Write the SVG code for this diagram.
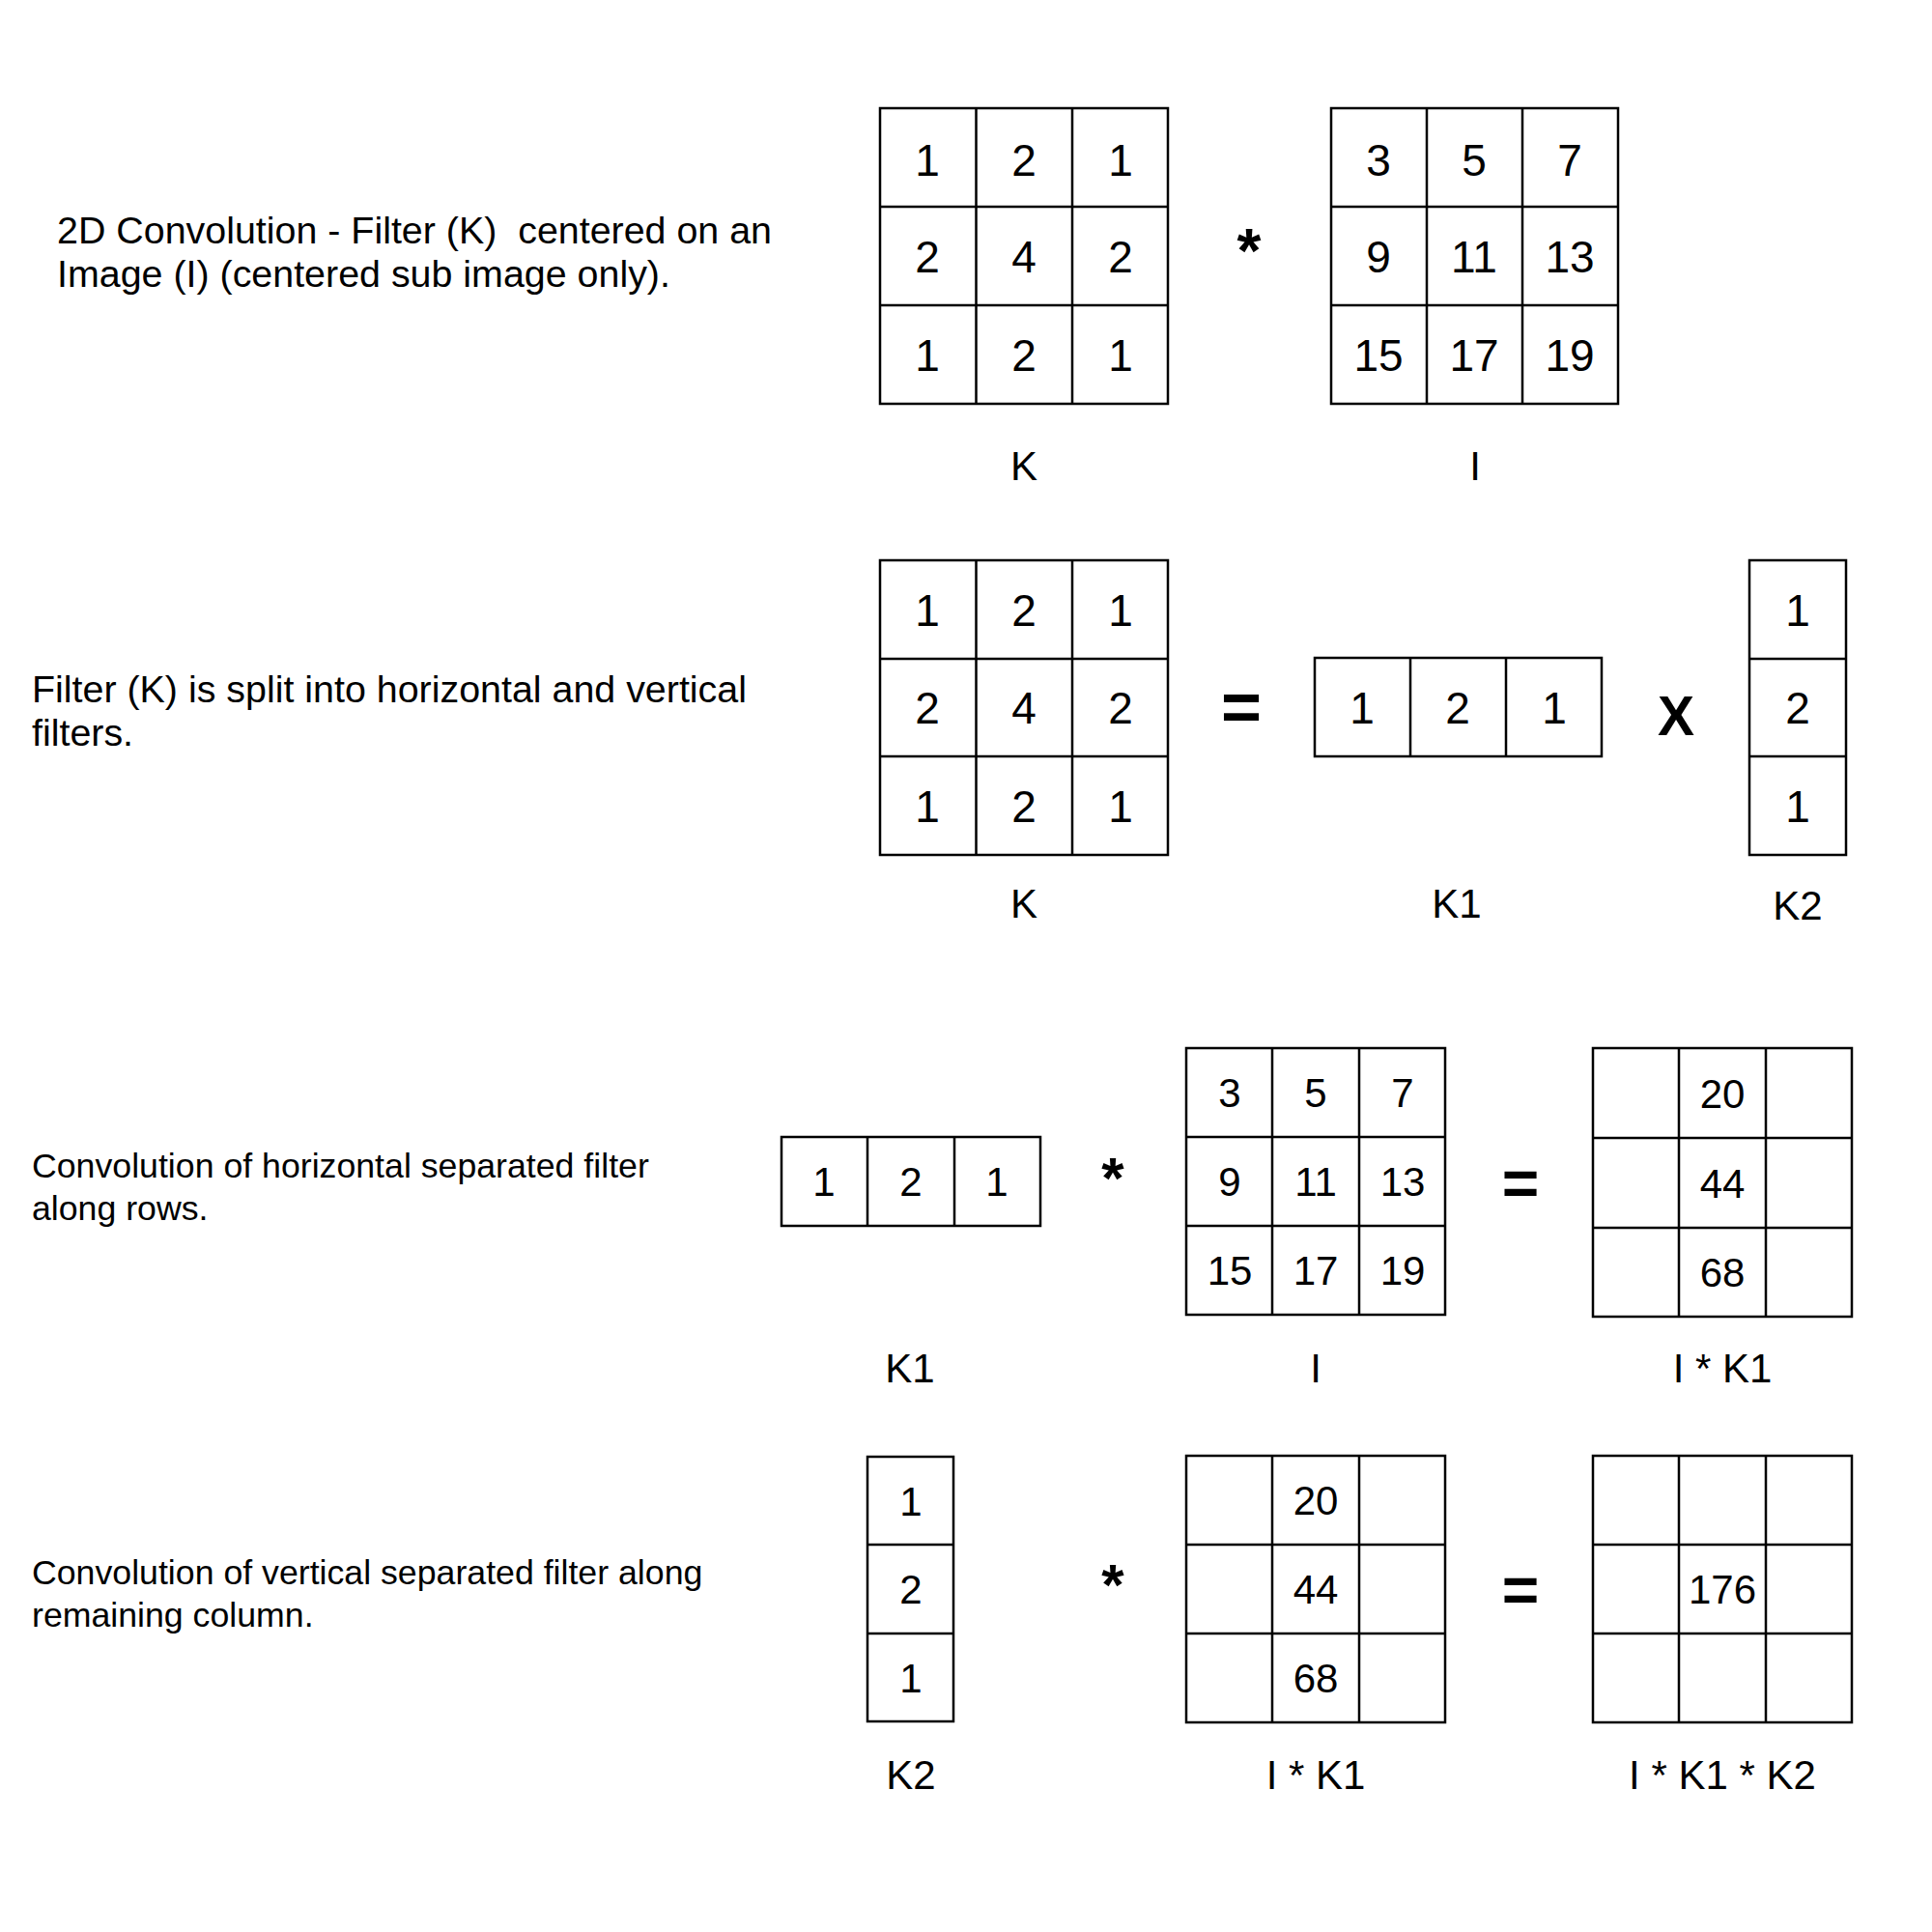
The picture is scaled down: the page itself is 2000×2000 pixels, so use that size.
<svg xmlns="http://www.w3.org/2000/svg" width="2000" height="2000" viewBox="0 0 2000 2000">
<style>
.g{fill:none;stroke:#000;stroke-width:2.5}
.t{font-family:"Liberation Sans",Arial,sans-serif;fill:#000}
.desc{font-size:39.4px;white-space:pre}
.desc2{font-size:35.7px}
.n1{font-size:46px;text-anchor:middle}
.n2{font-size:42px;text-anchor:middle}
.lb{font-size:42px;text-anchor:middle}
.op{font-weight:bold;text-anchor:middle}
</style>
<rect width="2000" height="2000" fill="#fff"/>

<g id="desc1" class="t desc"><text x="59" y="252" xml:space="preserve">2D Convolution - Filter (K)  centered on an</text><text x="59" y="297">Image (I) (centered sub image only).</text></g>
<g id="desc2" class="t desc"><text x="33" y="727">Filter (K) is split into horizontal and vertical</text><text x="33" y="772">filters.</text></g>
<g id="desc3" class="t desc2"><text x="33" y="1219">Convolution of horizontal separated filter</text><text x="33" y="1263">along rows.</text></g>
<g id="desc4" class="t desc2"><text x="33" y="1640">Convolution of vertical separated filter along</text><text x="33" y="1684">remaining column.</text></g>

<!-- Row 1 -->
<g id="K_row1">
<rect class="g" x="911" y="112" width="298" height="306"/>
<path class="g" d="M1010.5 112V418M1110 112V418M911 214H1209M911 316H1209"/>
<g class="t n1">
<text x="960" y="182">1</text><text x="1060" y="182">2</text><text x="1160" y="182">1</text>
<text x="960" y="282">2</text><text x="1060" y="282">4</text><text x="1160" y="282">2</text>
<text x="960" y="384">1</text><text x="1060" y="384">2</text><text x="1160" y="384">1</text>
</g>
<text class="t lb" x="1060" y="497">K</text>
</g>
<text id="op1" class="t op" x="1293" y="282" font-size="64">*</text>
<g id="I_row1">
<rect class="g" x="1378" y="112" width="297" height="306"/>
<path class="g" d="M1477 112V418M1576 112V418M1378 214H1675M1378 316H1675"/>
<g class="t n1">
<text x="1427" y="182">3</text><text x="1526" y="182">5</text><text x="1625" y="182">7</text>
<text x="1427" y="282">9</text><text x="1526" y="282">11</text><text x="1625" y="282">13</text>
<text x="1427" y="384">15</text><text x="1526" y="384">17</text><text x="1625" y="384">19</text>
</g>
<text class="t lb" x="1527" y="497">I</text>
</g>

<!-- Row 2 -->
<g id="K_row2">
<rect class="g" x="911" y="580" width="298" height="305"/>
<path class="g" d="M1010.5 580V885M1110 580V885M911 682H1209M911 783H1209"/>
<g class="t n1">
<text x="960" y="648">1</text><text x="1060" y="648">2</text><text x="1160" y="648">1</text>
<text x="960" y="749">2</text><text x="1060" y="749">4</text><text x="1160" y="749">2</text>
<text x="960" y="851">1</text><text x="1060" y="851">2</text><text x="1160" y="851">1</text>
</g>
<text class="t lb" x="1060" y="950">K</text>
</g>
<text id="op2" class="t op" x="1285" y="756" font-size="72">=</text>
<g id="K1_row2">
<rect class="g" x="1361" y="681" width="297" height="102"/>
<path class="g" d="M1460 681V783M1559 681V783"/>
<g class="t n1">
<text x="1410" y="749">1</text><text x="1509" y="749">2</text><text x="1609" y="749">1</text>
</g>
<text class="t lb" x="1508" y="950">K1</text>
</g>
<text id="op3" class="t op" x="1735" y="761" font-size="57">X</text>
<g id="K2_row2">
<rect class="g" x="1811" y="580" width="100" height="305"/>
<path class="g" d="M1811 682H1911M1811 783H1911"/>
<g class="t n1">
<text x="1861" y="648">1</text><text x="1861" y="749">2</text><text x="1861" y="851">1</text>
</g>
<text class="t lb" x="1861" y="952">K2</text>
</g>

<!-- Row 3 -->
<g id="K1_row3">
<rect class="g" x="809" y="1177" width="268" height="92"/>
<path class="g" d="M898 1177V1269M988 1177V1269"/>
<g class="t n2">
<text x="853" y="1238">1</text><text x="943" y="1238">2</text><text x="1032" y="1238">1</text>
</g>
<text class="t lb" x="942" y="1431">K1</text>
</g>
<text id="op4" class="t op" x="1152" y="1240" font-size="60">*</text>
<g id="I_row3">
<rect class="g" x="1228" y="1085" width="268" height="276"/>
<path class="g" d="M1317 1085V1361M1407 1085V1361M1228 1177H1496M1228 1269H1496"/>
<g class="t n2">
<text x="1273" y="1146">3</text><text x="1362" y="1146">5</text><text x="1452" y="1146">7</text>
<text x="1273" y="1238">9</text><text x="1362" y="1238">11</text><text x="1452" y="1238">13</text>
<text x="1273" y="1330">15</text><text x="1362" y="1330">17</text><text x="1452" y="1330">19</text>
</g>
<text class="t lb" x="1362" y="1431">I</text>
</g>
<text id="op5" class="t op" x="1574" y="1248" font-size="66">=</text>
<g id="IK1_row3">
<rect class="g" x="1649" y="1085" width="268" height="278"/>
<path class="g" d="M1738 1085V1363M1828 1085V1363M1649 1178H1917M1649 1271H1917"/>
<g class="t n2">
<text x="1783" y="1147">20</text><text x="1783" y="1240">44</text><text x="1783" y="1332">68</text>
</g>
<text class="t lb" x="1783" y="1431">I * K1</text>
</g>

<!-- Row 4 -->
<g id="K2_row4">
<rect class="g" x="898" y="1508" width="89" height="274"/>
<path class="g" d="M898 1599H987M898 1691H987"/>
<g class="t n2">
<text x="943" y="1569">1</text><text x="943" y="1660">2</text><text x="943" y="1752">1</text>
</g>
<text class="t lb" x="943" y="1852">K2</text>
</g>
<text id="op6" class="t op" x="1152" y="1661" font-size="60">*</text>
<g id="IK1_row4">
<rect class="g" x="1228" y="1507" width="268" height="276"/>
<path class="g" d="M1317 1507V1783M1407 1507V1783M1228 1599H1496M1228 1691H1496"/>
<g class="t n2">
<text x="1362" y="1568">20</text><text x="1362" y="1660">44</text><text x="1362" y="1752">68</text>
</g>
<text class="t lb" x="1362" y="1852">I * K1</text>
</g>
<text id="op7" class="t op" x="1574" y="1669" font-size="66">=</text>
<g id="IK1K2_row4">
<rect class="g" x="1649" y="1507" width="268" height="276"/>
<path class="g" d="M1738 1507V1783M1828 1507V1783M1649 1599H1917M1649 1691H1917"/>
<g class="t n2">
<text x="1783" y="1660">176</text>
</g>
<text class="t lb" x="1783" y="1852">I * K1 * K2</text>
</g>
</svg>
